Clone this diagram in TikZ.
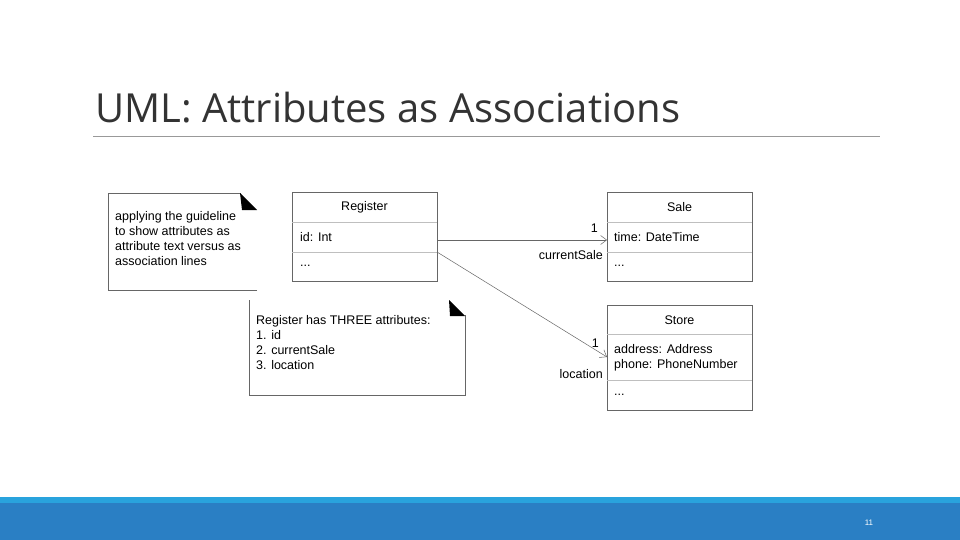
\documentclass[tikz,border=0pt]{standalone}
\usepackage{fontspec}
\setmainfont{Liberation Sans}
\newfontfamily\titlefont{Open Sans}
\usetikzlibrary{arrows.meta}
\definecolor{bar1}{HTML}{29A3DD}
\definecolor{bar2}{HTML}{2A7FC4}
\begin{document}
\begin{tikzpicture}[x=1pt,y=-1pt,
  box/.style={draw=black!60,line width=0.6pt},
  sep/.style={draw=black!25,line width=0.5pt},
  txt/.style={font=\fontsize{12.5}{15}\selectfont,inner sep=0pt},
  assoc/.style={draw=black!60,line width=0.5pt,-{Straight Barb[length=6pt,width=9pt]}}]
\useasboundingbox (0,0) rectangle (960,540);
\fill[white] (0,0) rectangle (960,540);
% title
\node[anchor=base west,inner sep=0pt,font=\titlefont\fontsize{40}{44}\selectfont,text=black!80] (title) at (95,123) {UML: Attributes as Associations};
\draw[black!40,line width=0.7pt] (93,136) -- (880,136);
% bottom bar
\fill[bar1] (0,497) rectangle (960,504);
\fill[bar2] (0,503) rectangle (960,540);
\node[text=white,font=\fontsize{8}{9}\selectfont] (pg) at (869,523) {11};
% Register
\draw[box] (292,192) rectangle (437,281);
\draw[sep] (292,222) -- (437,222); \draw[sep] (292,252) -- (437,252);
\node[txt] (reg) at (364.5,207) {Register};
\node[txt,anchor=west] (regid) at (300,237) {id: Int};
\node[txt,anchor=west] at (300,266) {...};
% Sale
\draw[box] (607,192) rectangle (752,281);
\draw[sep] (607,222) -- (752,222); \draw[sep] (607,252) -- (752,252);
\node[txt] (sale) at (679.5,207) {Sale};
\node[txt,anchor=west] at (614,237) {time: DateTime};
\node[txt,anchor=west] at (614,266) {...};
% Store
\draw[box] (607,305) rectangle (752,410);
\draw[sep] (607,334) -- (752,334); \draw[sep] (607,380) -- (752,380);
\node[txt] (store) at (679.5,320) {Store};
\node[txt,anchor=west] at (614,349) {address: Address};
\node[txt,anchor=west] at (614,365) {phone: PhoneNumber};
\node[txt,anchor=west] at (614,395) {...};
% associations
\coordinate (a1) at (437,240); \coordinate (b1) at (607,240);
\coordinate (a2) at (437,252); \coordinate (b2) at (607,357);
\draw[assoc] (a1) -- (b1);
\draw[assoc] (a2) -- (b2);
\node[txt,anchor=east] at (598,228) {1};
\node[txt,anchor=east] at (603,255) {currentSale};
\node[txt,anchor=east] at (599,343) {1};
\node[txt,anchor=east] at (603,374) {location};
% note 1
\draw[box] (257,290) -- (108,290) -- (108,193) -- (241,193);
\fill (240,193) -- (257,210) -- (242,210) -- cycle;
\node[txt,anchor=north west,align=left] (n1) at (115,211) {applying the guideline\\to show attributes as\\attribute text versus as\\association lines};
% note 2
\draw[box] (249,300) -- (249,395) -- (465,395) -- (465,315);
\fill (449,300) -- (465,316) -- (450,316) -- cycle;
\node[txt,anchor=north west,align=left] (n2) at (256,315) {Register has THREE attributes:\\1. id\\2. currentSale\\3. location};
\end{tikzpicture}
\end{document}
